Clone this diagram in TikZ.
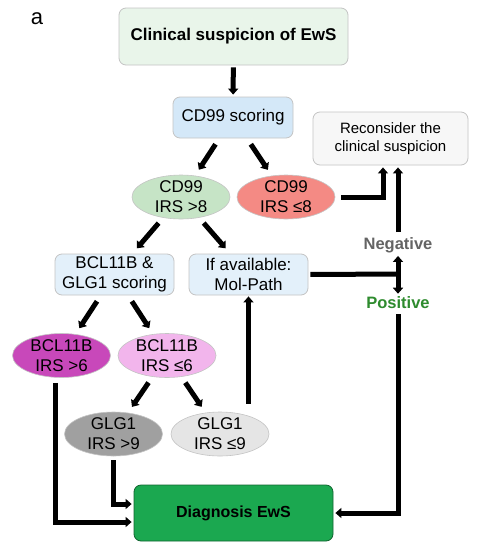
\documentclass[tikz,border=0pt]{standalone}
\usepackage{fontspec}
\setmainfont{Liberation Sans}
\usepackage{xcolor}
\usetikzlibrary{arrows.meta,positioning,shapes.geometric}
\definecolor{boxline}{HTML}{C4C4C4}
\definecolor{mintbg}{HTML}{E9F5EA}
\definecolor{scoreblue}{HTML}{D4E8F8}
\definecolor{paleblue}{HTML}{E3F0FA}
\definecolor{recongray}{HTML}{F7F7F7}
\definecolor{cdpos}{HTML}{C6E4C6}
\definecolor{cdneg}{HTML}{F48A84}
\definecolor{bclpos}{HTML}{C848BA}
\definecolor{bclneg}{HTML}{F2B5EC}
\definecolor{glgpos}{HTML}{A0A0A0}
\definecolor{glgneg}{HTML}{E5E5E5}
\definecolor{diaggreen}{HTML}{1BA850}
\definecolor{neggray}{HTML}{646464}
\definecolor{posgreen}{HTML}{2E8B2E}
\tikzset{
	blk/.style={draw=boxline, rounded corners=7pt, line width=0.8pt, align=center,
		inner sep=2pt, font=\fontsize{17}{20}\selectfont},
	hdr/.style={blk, fill=mintbg, minimum width=229pt, minimum height=57pt,
		font=\fontsize{17}{20}\selectfont\bfseries},
	scr/.style={blk, fill=paleblue, minimum width=119pt, minimum height=41pt},
	ell/.style={ellipse, draw=boxline, line width=0.6pt, align=center, inner xsep=0pt,
		inner ysep=-3pt, minimum width=98pt, minimum height=44pt,
		font=\fontsize{17}{20}\selectfont},
	arr/.style={line width=5pt, -{Triangle[length=6pt,width=10pt]}},
	diag/.style={arr, shorten <=7pt, shorten >=7pt},
	lbl/.style={font=\fontsize{16.5}{20}\selectfont\bfseries, inner sep=1pt},
}
\begin{document}
\begin{tikzpicture}[x=1pt, y=-1pt]
	\useasboundingbox[fill=white] (0,0) rectangle (481,550);
	\node[font=\fontsize{22}{24}\selectfont] at (37,19) (panel) {a};
	% main column
	\node[hdr] at (233.5,36.5) (susp) {Clinical suspicion of EwS};
	\node[scr, fill=scoreblue, minimum width=120pt] at (233,117.5) (cdscore) {CD99 scoring};
	\node[blk, fill=recongray, minimum width=155pt, minimum height=53pt,
		font=\fontsize{15}{18}\selectfont] at (390.5,138.5) (recon) {Reconsider the\\clinical suspicion};
	\node[ell, fill=cdpos] at (181,197) (cdp) {CD99\\IRS >8};
	\node[ell, fill=cdneg] at (286,197) (cdn) {CD99\\IRS ≤8};
	\node[scr] at (114.5,274.5) (bclscore) {BCL11B \&\\GLG1 scoring};
	\node[scr] at (248.5,274.5) (molpath) {If available:\\Mol-Path};
	\node[ell, fill=bclpos] at (61.5,355.5) (bclp) {BCL11B\\IRS >6};
	\node[ell, fill=bclneg] at (167,355.5) (bcln) {BCL11B\\IRS ≤6};
	\node[ell, fill=glgpos] at (113.5,434) (glgp) {GLG1\\IRS >9};
	\node[ell, fill=glgneg] at (220,434) (glgn) {GLG1\\IRS ≤9};
	\node[blk, draw=diaggreen!60!black, fill=diaggreen, minimum width=199pt, minimum height=56pt,
		font=\fontsize{16}{20}\selectfont\bfseries] at (233.5,513) (diagn) {Diagnosis EwS};
	% result labels
	\node[lbl, text=neggray] at (398,245) (negtxt) {Negative};
	\node[lbl, text=posgreen] at (398,303) (postxt) {Positive};
	\coordinate (junc) at (398,274);
	% connectors
	\draw[arr, shorten <=2pt, shorten >=2pt] (susp) -- (cdscore);
	\draw[diag] (cdscore) -- (cdp);
	\draw[diag] (cdscore) -- (cdn);
	\draw[diag] (cdp) -- (bclscore);
	\draw[diag] (cdp) -- (molpath);
	\draw[diag] (bclscore) -- (bclp);
	\draw[diag] (bclscore) -- (bcln);
	\draw[diag] (bcln) -- (glgp);
	\draw[diag] (bcln) -- (glgn);
	\draw[arr, shorten <=6pt, shorten >=2pt] (cdn.east) -| ([xshift=-7.5pt]recon.south);
	\draw[arr, shorten <=4pt, shorten >=2pt] (negtxt.north) -- ([xshift=7.5pt]recon.south);
	\draw[line width=5pt, shorten <=2pt] (molpath.east) -- ([xshift=2.5pt]junc);
	\draw[arr, shorten >=2pt] (junc) -- (negtxt.south);
	\draw[arr, shorten >=2pt] (junc) -- (postxt.north);
	\draw[arr, shorten <=4pt, shorten >=2pt] (postxt.south) |- (diagn.east);
	\draw[arr, shorten <=4pt, shorten >=1pt] ([yshift=4pt]molpath.south |- glgn.north) -- (molpath.south);
	\draw[arr, shorten <=4pt, shorten >=2pt] (glgp.south) |- ([yshift=9pt]diagn.west);
	\draw[arr, shorten <=5pt, shorten >=2pt] ([xshift=-6pt]bclp.south) |- ([yshift=-9pt]diagn.west);
\end{tikzpicture}
\end{document}
